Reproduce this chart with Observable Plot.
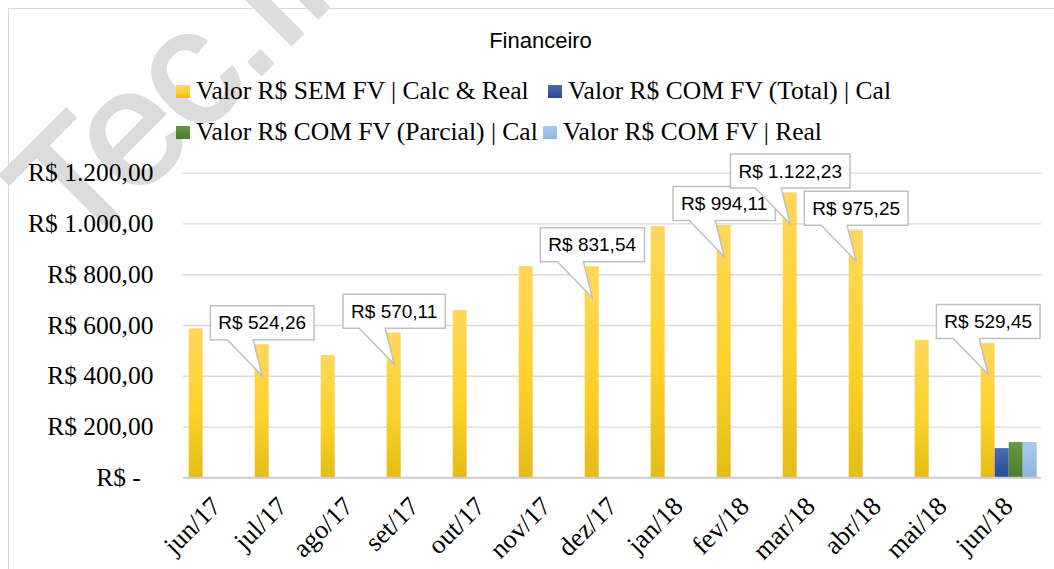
<!DOCTYPE html>
<html>
<head>
<meta charset="utf-8">
<script src="https://cdn.jsdelivr.net/npm/d3@7"></script>
<script src="https://cdn.jsdelivr.net/npm/@observablehq/plot@0.6"></script>
<style>
  html, body { margin: 0; padding: 0; background: #fff; }
  #wrap { position: relative; width: 1054px; height: 569px; overflow: hidden; background: #fff; }
  #frame { position: absolute; left: 8px; top: 8px; width: 1100px; height: 640px; border: 1px solid #d9d9d9; box-sizing: border-box; z-index: 0; }
  #wm { position: absolute; left: 0; top: 0; z-index: 0; }
  #content { position: relative; z-index: 1; }
  #header { position: relative; height: 150px; }
  #title { position: absolute; left: 440px; width: 201px; top: 30px; text-align: center;
           font-family: "Liberation Sans", Arial, sans-serif; font-size: 22px; line-height: 22px; color: #000; }
  .lg { position: absolute; display: flex; align-items: flex-start; white-space: nowrap;
        font-family: "Liberation Serif", "Times New Roman", serif; font-size: 25.5px; line-height: 25.5px; color: #000; }
  .lg .sw { width: 14px; height: 13px; margin-top: 7px; margin-right: 6px; }
  #chart svg { display: block; }
</style>
</head>
<body>
<svg width="0" height="0" style="position:absolute">
  <defs>
    <linearGradient id="gYellow" x1="0" y1="0" x2="0" y2="1">
      <stop offset="0%" stop-color="#ffd75c"/>
      <stop offset="55%" stop-color="#fed22a"/>
      <stop offset="100%" stop-color="#e4bc18"/>
    </linearGradient>
    <linearGradient id="gBlue" x1="0" y1="0" x2="0" y2="1">
      <stop offset="0%" stop-color="#4b6cb3"/>
      <stop offset="100%" stop-color="#2a4b93"/>
    </linearGradient>
    <linearGradient id="gGreen" x1="0" y1="0" x2="0" y2="1">
      <stop offset="0%" stop-color="#66993f"/>
      <stop offset="100%" stop-color="#4a7d2f"/>
    </linearGradient>
    <linearGradient id="gLight" x1="0" y1="0" x2="0" y2="1">
      <stop offset="0%" stop-color="#a8cbeb"/>
      <stop offset="100%" stop-color="#8db7df"/>
    </linearGradient>
  </defs>
</svg>
<div id="wrap">
  <div id="frame"></div>
  <svg id="wm" width="1054" height="569">
    <text transform="translate(78,258) rotate(-45)" font-family="Liberation Sans, Arial, sans-serif"
          font-size="165" letter-spacing="-4" fill="#dcdcdc" stroke="#dcdcdc" stroke-width="3"
          stroke-linejoin="round">Tec.In</text>
  </svg>
  <div id="content">
    <div id="header">
      <div id="title"></div>
      <div id="legend"></div>
    </div>
    <div id="chart"></div>
  </div>
</div>
<script>
// ---------------- data ----------------
const months = ["jun/17","jul/17","ago/17","set/17","out/17","nov/17","dez/17",
                "jan/18","fev/18","mar/18","abr/18","mai/18","jun/18"];
const seriesNames = [
  "Valor R$ SEM FV | Calc & Real",
  "Valor R$ COM FV (Total) | Cal",
  "Valor R$ COM FV (Parcial) | Cal",
  "Valor R$ COM FV | Real"
];
const valorSemFV       = [587, 524.26, 482, 570.11, 659, 833, 831.54, 990, 994.11, 1122.23, 975.25, 541, 529.45];
const valorComFVTotal  = [null,null,null,null,null,null,null,null,null,null,null,null, 115];
const valorComFVParc   = [null,null,null,null,null,null,null,null,null,null,null,null, 139];
const valorComFVReal   = [null,null,null,null,null,null,null,null,null,null,null,null, 139];
const labeledMonths    = ["jul/17","set/17","dez/17","fev/18","mar/18","abr/18","jun/18"];
const yTicks           = [0, 200, 400, 600, 800, 1000, 1200];
const titleText        = "Financeiro";

const seriesFill = ["url(#gYellow)", "url(#gBlue)", "url(#gGreen)", "url(#gLight)"];
const swatchCss  = ["linear-gradient(#ffd75c,#fed22a 55%,#e4bc18)", "linear-gradient(#4b6cb3,#2a4b93)",
                    "linear-gradient(#66993f,#4a7d2f)", "linear-gradient(#a8cbeb,#8db7df)"];

// ---------------- table ----------------
const allSeries = [valorSemFV, valorComFVTotal, valorComFVParc, valorComFVReal];
const rows = [];
months.forEach((m, i) => {
  allSeries.forEach((arr, s) => {
    if (arr[i] != null) rows.push({month: m, series: seriesNames[s], value: arr[i], fill: seriesFill[s]});
  });
});
const labels = labeledMonths.map(m => ({month: m, series: seriesNames[0], value: valorSemFV[months.indexOf(m)]}));

const ptBR = d3.formatLocale({decimal: ",", thousands: ".", grouping: [3], currency: ["R$ ", ""]});
const brl = ptBR.format("$,.2f");

// ---------------- header ----------------
document.getElementById("title").textContent = titleText;
const legendPos = [[176, 77.6], [548, 77.6], [176, 118.6], [543, 118.6]];
const legend = document.getElementById("legend");
seriesNames.forEach((name, i) => {
  const item = document.createElement("div");
  item.className = "lg";
  item.style.left = legendPos[i][0] + "px";
  item.style.top = legendPos[i][1] + "px";
  const sw = document.createElement("span");
  sw.className = "sw";
  sw.style.background = swatchCss[i];
  const tx = document.createElement("span");
  tx.textContent = name;
  item.append(sw, tx);
  legend.append(item);
});

// ---------------- chart ----------------
const chart = Plot.plot({
  width: 1054,
  height: 419,
  marginTop: 22.7,
  marginBottom: 91.7,
  marginLeft: 180.3,
  marginRight: 11.3,
  style: {background: "transparent", fontFamily: "Liberation Serif, serif", overflow: "visible", color: "#000"},
  fx: {domain: months, padding: 0, label: null},
  x: {domain: seriesNames, paddingInner: 0.03, paddingOuter: 0.325, axis: null},
  y: {domain: [0, 1200], label: null},
  color: {type: "identity"},
  marks: [
    Plot.gridY(yTicks, {stroke: "#d9d9d9", strokeOpacity: 1, strokeWidth: 1.3}),
    Plot.barY(rows, {fx: "month", x: "series", y: "value", fill: "fill"}),
    Plot.ruleY([0], {stroke: "#cccccc", strokeWidth: 2}),
    Plot.text(labels, {fx: "month", x: "series", y: "value", text: d => brl(d.value), dy: -21.5,
      fontFamily: "Liberation Sans, Arial, sans-serif", fontSize: 19, fill: "#000"}),
    Plot.axisY({ticks: yTicks, tickSize: 0, tickPadding: 30, fontSize: 25.5, label: null,
      tickFormat: d => d === 0 ? "R$ -\u00a0\u00a0" : brl(d)}),
    Plot.axisFx({anchor: "bottom", tickRotate: -45, tickSize: 0, tickPadding: 24, fontSize: 26.5, label: null})
  ]
});
document.getElementById("chart").append(chart);

// ---------------- callout boxes behind the data labels ----------------
const NS = "http://www.w3.org/2000/svg";
const svgRect = chart.getBoundingClientRect();
const textG = chart.querySelector('g[aria-label="text"]');
if (textG) {
  const cg = document.createElementNS(NS, "g");
  textG.parentNode.insertBefore(cg, textG);
  textG.querySelectorAll("text").forEach(t => {
    const r = t.getBoundingClientRect();
    const cx = (r.left + r.right) / 2 - svgRect.left;
    const cy = (r.top + r.bottom) / 2 - svgRect.top;
    const w = r.width + 16, h = 34;
    const L = cx - w / 2, R = cx + w / 2, T = cy - h / 2, B = cy + h / 2;
    const tipX = cx, tipY = B + 36;
    const p = document.createElementNS(NS, "path");
    p.setAttribute("d", `M${L},${T}H${R}V${B}H${tipX - 9}L${tipX},${tipY}L${tipX - 35},${B}H${L}Z`);
    p.setAttribute("fill", "#fff");
    p.setAttribute("stroke", "#bfbfbf");
    p.setAttribute("stroke-width", "1.5");
    cg.append(p);
  });
}
</script>
</body>
</html>
